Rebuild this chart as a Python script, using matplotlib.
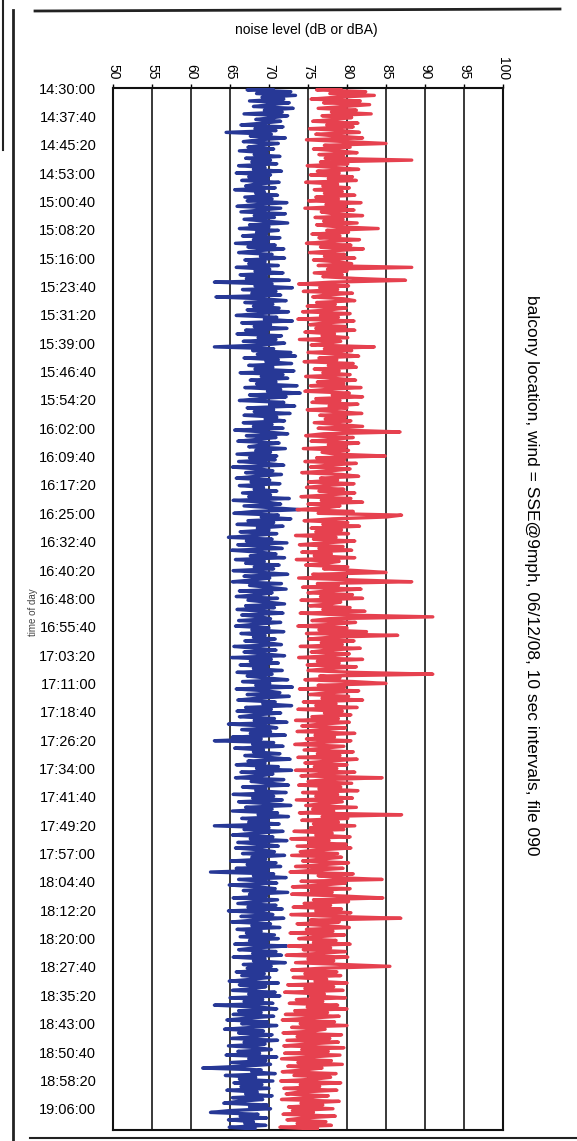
import numpy as np
import matplotlib
matplotlib.use('Agg')
from matplotlib import pyplot as plt
from matplotlib.lines import Line2D

plt.rcParams['font.family'] = ['Liberation Sans', 'DejaVu Sans']

# readings every 30 s from 14:30:00, estimated off the scanned chart
step_s = 30
blue_dba = [
    70.5, 67.2, 72.8, 68.4, 73.4, 69.1, 71.9, 67.5, 72.6, 70.2, 68.0, 73.1, 69.4, 71.7, 66.8, 72.4, 70.6, 68.3, 71.5, 69.2,
    66.4, 71.8, 68.2, 70.9, 64.5, 70.3, 67.6, 72.1, 68.8, 66.7, 71.2, 69.0, 67.3, 70.6, 66.2, 69.8, 68.1, 71.4, 67.0, 70.2,
    67.8, 71.0, 66.1, 69.5, 68.0, 71.6, 65.8, 70.2, 67.4, 69.9, 66.5, 71.3, 68.2, 67.0, 70.8, 65.6, 69.4, 68.3, 71.1, 66.9,
    70.4, 67.2, 72.3, 68.6, 65.9, 71.5, 69.0, 66.4, 72.1, 68.1, 70.7, 66.8, 69.6, 72.4, 67.5, 70.0, 66.2, 71.2, 68.4, 69.7,
    66.6, 71.4, 68.0, 69.9, 65.7, 70.8, 67.3, 71.9, 68.5, 66.1, 70.4, 68.9, 72.0, 66.9, 69.5, 67.4, 71.2, 65.8, 70.1, 68.2,
    71.8, 66.3, 69.7, 67.1, 72.6, 63.0, 70.4, 68.2, 73.0, 66.6, 70.9, 67.8, 71.5, 63.2, 69.3, 72.2, 66.9, 70.5, 68.0, 71.3,
    67.2, 72.5, 68.7, 65.8, 71.0, 69.4, 73.0, 66.5, 70.2, 68.1, 72.3, 67.0, 69.8, 65.9, 71.6, 68.6, 70.9, 66.7, 72.0, 69.1,
    63.0, 70.6, 67.9, 72.8, 68.5, 73.4, 66.8, 71.2, 69.6, 72.9, 67.4, 70.5, 68.2, 73.2, 66.3, 71.8, 69.0, 72.4, 67.6, 70.9,
    68.4, 73.6, 66.9, 71.5, 69.8, 74.0, 67.5, 72.2, 68.9, 66.2, 71.9, 70.1, 73.3, 67.2, 70.6, 68.1, 72.7, 66.8, 71.0, 69.5,
    72.0, 66.7, 70.4, 68.0, 71.8, 65.6, 69.5, 72.4, 67.1, 70.9, 68.6, 66.0, 71.3, 69.2, 67.4, 72.1, 68.3, 70.2, 65.9, 71.0,
    67.5, 70.8, 66.1, 69.6, 71.9, 65.3, 68.7, 70.5, 67.0, 71.6, 68.4, 65.8, 70.1, 67.7, 71.4, 66.2, 69.3, 68.1, 71.0, 66.6,
    70.2, 67.4, 72.6, 65.4, 69.8, 71.5, 66.8, 70.3, 74.0, 68.1, 65.5, 71.2, 69.0, 72.8, 67.3, 70.6, 65.9, 71.8, 68.5, 70.0,
    66.3, 71.0, 68.2, 64.8, 70.4, 67.1, 72.3, 66.0, 69.5, 71.7, 65.2, 68.8, 70.9, 67.6, 72.0, 65.7, 69.4, 67.0, 71.3, 68.1,
    70.6, 65.4, 69.2, 72.4, 66.8, 70.1, 68.0, 65.3, 71.6, 67.5, 69.9, 72.2, 66.2, 70.4, 68.7, 65.8, 71.1, 67.3, 69.6, 72.0,
    67.0, 70.7, 65.9, 69.3, 71.8, 66.5, 68.9, 70.2, 66.1, 71.5, 68.2, 65.7, 70.0, 67.8, 71.9, 66.4, 69.5, 68.0, 70.8, 66.9,
    69.7, 71.6, 65.5, 68.4, 70.9, 66.8, 69.1, 72.0, 65.2, 70.3, 67.6, 71.2, 66.3, 69.8, 68.0, 71.7, 65.9, 70.4, 67.2, 69.5,
    72.4, 66.6, 70.1, 68.3, 73.0, 65.8, 69.7, 71.4, 67.2, 72.6, 68.5, 66.0, 70.8, 69.2, 72.9, 67.0, 70.3, 65.9, 71.5, 68.4,
    66.2, 70.7, 68.1, 72.3, 64.8, 69.4, 71.0, 66.5, 70.2, 67.6, 72.1, 65.3, 69.0, 63.0, 70.6, 67.9, 71.8, 65.6, 69.3, 68.0,
    71.4, 66.9, 70.0, 72.7, 67.3, 69.5, 65.8, 71.2, 68.4, 72.9, 66.4, 70.5, 68.8, 65.7, 71.9, 67.7, 70.2, 72.5, 66.6, 69.6,
    68.3, 72.2, 65.4, 70.6, 67.9, 71.7, 66.1, 69.8, 72.8, 67.0, 70.4, 65.3, 71.1, 68.6, 72.5, 66.5, 69.9, 67.4, 71.3, 63.0,
    70.0, 66.8, 71.8, 68.2, 65.3, 70.5, 67.6, 72.3, 66.0, 69.4, 71.2, 65.7, 68.9, 70.7, 66.6, 72.0, 67.8, 69.6, 65.1, 70.9,
    67.2, 71.5, 65.8, 69.9, 62.5, 70.6, 68.0, 72.2, 66.1, 69.3, 71.0, 64.9, 68.5, 70.8, 66.7, 72.4, 67.5, 69.7, 65.4, 71.1,
    68.6, 66.0, 70.9, 67.3, 71.7, 64.8, 69.2, 70.5, 66.4, 71.9, 68.1, 65.2, 70.2, 67.8, 71.4, 65.9, 69.0, 67.1, 70.7, 66.3,
    71.2, 67.5, 69.8, 65.6, 72.3, 68.3, 66.1, 70.9, 67.9, 71.6, 65.4, 69.5, 68.0, 72.1, 66.7, 70.3, 67.2, 71.0, 65.8, 69.4,
    66.5, 70.1, 67.8, 64.9, 71.2, 66.2, 69.6, 68.0, 65.3, 70.8, 67.4, 71.4, 65.0, 69.2, 66.8, 70.5, 63.0, 68.7, 71.0, 66.1,
    69.0, 65.4, 70.6, 67.2, 64.6, 69.8, 66.5, 71.0, 67.9, 64.3, 69.3, 66.1, 70.4, 68.0, 65.2, 71.1, 66.8, 69.5, 64.8, 68.6,
    70.3, 66.0, 68.8, 64.5, 71.0, 67.4, 69.6, 65.1, 70.2, 66.7, 61.5, 69.0, 67.8, 70.8, 64.4, 68.3, 66.2, 70.5, 65.5, 69.1,
    66.4, 70.0, 64.6, 68.5, 67.0, 70.4, 65.3, 69.2, 66.1, 64.2, 69.8, 67.5, 70.2, 65.0, 62.5, 68.6, 66.3, 69.7, 64.8, 68.0,
    66.9, 69.6, 64.9, 68.2,
]
red_db = [
    79.2, 76.1, 82.4, 77.8, 83.5, 78.6, 75.4, 81.7, 77.0, 82.9, 79.5, 76.3, 81.2, 78.0, 83.1, 76.8, 80.6, 78.3, 75.6, 81.4,
    77.4, 80.8, 75.2, 79.3, 81.6, 76.0, 78.7, 82.0, 74.8, 79.9, 85.0, 77.1, 80.4, 75.7, 78.9, 81.3, 76.4, 79.6, 77.2, 88.3,
    76.6, 80.1, 74.9, 78.4, 81.5, 76.2, 79.0, 75.3, 80.7, 77.6, 81.2, 74.7, 78.8, 76.9, 80.3, 75.8, 79.4, 77.1, 81.0, 76.0,
    78.9, 75.1, 81.8, 77.3, 79.8, 74.6, 80.9, 76.7, 78.2, 82.0, 75.9, 79.5, 77.0, 81.3, 76.1, 78.6, 84.0, 77.4, 80.2, 75.5,
    79.1, 76.4, 81.6, 77.9, 74.8, 80.5, 76.6, 82.1, 78.3, 75.2, 79.7, 77.1, 81.0, 75.7, 78.8, 80.6, 76.3, 88.3, 77.5, 80.0,
    75.8, 79.4, 76.9, 81.1, 87.5, 78.0, 73.8, 80.2, 76.5, 78.8, 74.4, 80.7, 77.2, 75.6, 79.6, 81.0, 76.1, 78.5, 74.9, 79.9,
    77.7, 74.3, 80.4, 76.6, 78.9, 73.7, 80.9, 77.3, 75.2, 79.8, 76.0, 81.0, 74.6, 78.4, 76.8, 80.1, 73.9, 79.2, 77.5, 75.4,
    83.5, 77.1, 80.6, 75.0, 79.3, 81.5, 76.4, 78.7, 74.5, 80.8, 77.6, 81.2, 75.8, 79.0, 76.9, 80.4, 74.7, 78.3, 81.1, 76.2,
    79.6, 75.3, 81.8, 77.4, 74.6, 80.3, 78.1, 82.0, 76.0, 79.1, 75.5, 81.4, 77.7, 80.0, 74.9, 78.6, 81.9, 76.5, 79.8, 77.2,
    80.5, 75.8, 78.9, 82.0, 76.3, 79.5, 86.8, 77.0, 74.7, 80.8, 78.2, 75.4, 81.5, 77.6, 79.9, 74.4, 80.2, 76.8, 78.5, 84.9,
    76.1, 79.7, 74.6, 81.2, 77.5, 75.3, 80.4, 78.0, 74.2, 79.3, 81.5, 76.6, 78.8, 75.1, 80.9, 77.2, 74.8, 79.6, 76.4, 81.0,
    77.8, 74.1, 80.5, 76.7, 82.0, 75.0, 79.1, 77.4, 73.6, 80.8, 76.3, 87.0, 85.0, 78.2, 74.5, 80.1, 76.9, 81.6, 75.4, 79.3,
    76.0, 80.2, 73.4, 78.6, 75.7, 81.0, 77.1, 73.9, 79.5, 76.4, 80.6, 74.2, 78.0, 75.8, 81.0, 73.5, 79.0, 77.3, 74.7, 80.1,
    77.0, 81.3, 85.0, 75.6, 79.8, 73.8, 80.5, 88.3, 76.2, 78.9, 74.3, 81.8, 77.4, 75.0, 80.7, 76.6, 82.0, 74.1, 79.2, 77.8,
    75.2, 80.4, 76.9, 82.3, 74.0, 79.6, 91.0, 77.7, 75.5, 81.1, 78.3, 73.7, 80.0, 76.4, 82.5, 74.8, 86.5, 77.9, 75.1, 80.9,
    76.7, 79.4, 74.0, 81.7, 77.3, 75.4, 80.3, 78.0, 73.8, 82.0, 76.2, 79.0, 74.9, 81.2, 77.6, 75.0, 80.6, 91.0, 76.5, 79.1,
    74.6, 80.8, 85.0, 76.3, 79.7, 73.9, 81.5, 77.8, 75.2, 80.2, 76.8, 82.0, 74.4, 78.6, 76.0, 81.3, 73.7, 79.4, 77.1, 80.5,
    75.5, 78.9, 73.4, 80.3, 76.6, 74.2, 79.8, 77.2, 73.6, 81.0, 75.9, 78.4, 74.8, 80.5, 76.3, 73.3, 79.6, 77.0, 74.5, 80.8,
    76.2, 79.1, 73.7, 81.3, 77.5, 74.6, 80.0, 75.8, 78.7, 73.4, 81.0, 76.9, 74.1, 84.5, 77.3, 75.0, 80.6, 73.8, 79.2, 76.4,
    81.4, 74.3, 78.8, 76.0, 80.7, 73.5, 79.4, 77.1, 74.7, 81.2, 75.6, 78.3, 73.9, 87.0, 76.8, 80.1, 74.2, 78.9, 75.7, 81.0,
    75.3, 79.6, 73.2, 78.1, 76.0, 80.4, 72.8, 77.7, 75.1, 79.9, 73.6, 80.5, 76.4, 74.0, 78.8, 72.9, 79.3, 76.7, 74.3, 80.2,
    77.0, 73.4, 79.5, 75.8, 72.7, 80.8, 76.3, 78.6, 84.5, 74.1, 79.8, 76.9, 73.0, 80.4, 75.4, 78.1, 72.9, 79.6, 84.6, 75.7,
    80.2, 74.5, 77.9, 73.1, 79.3, 76.0, 80.5, 72.8, 78.4, 86.9, 75.3, 79.0, 73.6, 77.5, 80.3, 74.8, 78.2, 72.7, 79.7, 76.1,
    73.8, 78.6, 75.7, 80.4, 72.5, 77.9, 74.4, 79.8, 76.5, 72.2, 80.1, 75.0, 78.3, 73.4, 79.5, 85.5, 76.8, 72.9, 78.7, 74.6,
    79.2, 73.1, 77.4, 75.9, 80.0, 72.4, 78.3, 74.6, 79.5, 72.0, 77.1, 75.3, 79.8, 73.5, 76.9, 72.6, 78.8, 74.9, 80.0, 73.3,
    77.5, 72.1, 79.0, 75.2, 71.7, 78.4, 74.0, 80.0, 72.9, 77.2, 75.6, 71.8, 79.3, 73.6, 77.8, 72.3, 78.9, 75.0, 71.9, 79.6,
    74.2, 77.6, 72.0, 79.1, 75.3, 71.6, 78.0, 73.7, 79.4, 72.4, 76.8, 74.5, 71.7, 78.6, 73.2, 77.9, 75.8, 71.5, 79.2, 74.0,
    76.5, 71.9, 78.7, 73.8, 72.2, 77.6, 75.0, 71.6, 79.0, 74.1, 76.9, 72.5, 78.2, 73.0, 75.7, 71.8, 78.5, 74.4, 72.3, 77.3,
    73.6, 78.0, 71.4, 76.2,
]

tick_step_s = 460
time_labels = [
    '14:30:00', '14:37:40', '14:45:20', '14:53:00', '15:00:40', '15:08:20', '15:16:00',
    '15:23:40', '15:31:20', '15:39:00', '15:46:40', '15:54:20', '16:02:00', '16:09:40',
    '16:17:20', '16:25:00', '16:32:40', '16:40:20', '16:48:00', '16:55:40', '17:03:20',
    '17:11:00', '17:18:40', '17:26:20', '17:34:00', '17:41:40', '17:49:20', '17:57:00',
    '18:04:40', '18:12:20', '18:20:00', '18:27:40', '18:35:20', '18:43:00', '18:50:40',
    '18:58:20', '19:06:00',
]
level_ticks = [50, 55, 60, 65, 70, 75, 80, 85, 90, 95, 100]
end_s = 16905  # axis runs to about 19:11:45

W, H = 577, 1141
fig = plt.figure(figsize=(W / 100, H / 100), dpi=100)
x0, x1, y0, y1 = 113, 503, 88, 1130
ax = fig.add_axes([x0 / W, 1 - y1 / H, (x1 - x0) / W, (y1 - y0) / H])

t_blue = np.arange(len(blue_dba)) * step_s
t_red = np.arange(len(red_db)) * step_s
ax.plot(blue_dba, t_blue, color='#273896', lw=2.4, zorder=3)
ax.plot(red_db, t_red, color='#e6414f', lw=2.4, zorder=4)

ax.set_xlim(50, 100)
ax.set_ylim(end_s, 0)
ax.set_xticks(level_ticks)
ax.set_xticklabels([str(v) for v in level_ticks], rotation=-90, fontsize=10)
ax.xaxis.tick_top()
ax.tick_params(axis='x', direction='out', length=3, width=1, pad=3)
ax.set_yticks(np.arange(len(time_labels)) * tick_step_s)
ax.set_yticklabels(time_labels, fontsize=10.5)
ax.tick_params(axis='y', length=0, pad=12)
ax.grid(axis='x', color='#2a2a2a', lw=1.3, zorder=1)
ax.set_axisbelow(True)
for s in ax.spines.values():
    s.set_linewidth(1.5)
    s.set_color('#111111')

fig.text(306 / W, 1 - 30 / H, 'noise level (dB or dBA)', ha='center', va='center', fontsize=10)
fig.text(532 / W, 1 - 575 / H,
         'balcony location, wind = SSE@9mph, 06/12/08, 10 sec intervals, file 090',
         rotation=-90, ha='center', va='center', fontsize=12.5)
fig.text(33 / W, 1 - 612 / H, 'time of day', rotation=90, ha='center', va='center',
         fontsize=7, color='#444444')

# scanned page frame
for (xa, ya, xb, yb, lw) in [(35, 11, 560, 9, 2.0), (13, 10, 13, 1141, 2.0),
                             (3, 0, 3, 150, 1.5), (30, 1138, 577, 1138, 1.5)]:
    fig.add_artist(Line2D([xa / W, xb / W], [1 - ya / H, 1 - yb / H],
                          transform=fig.transFigure, color='#222222', lw=lw))

fig.savefig('out.png', dpi=100)
